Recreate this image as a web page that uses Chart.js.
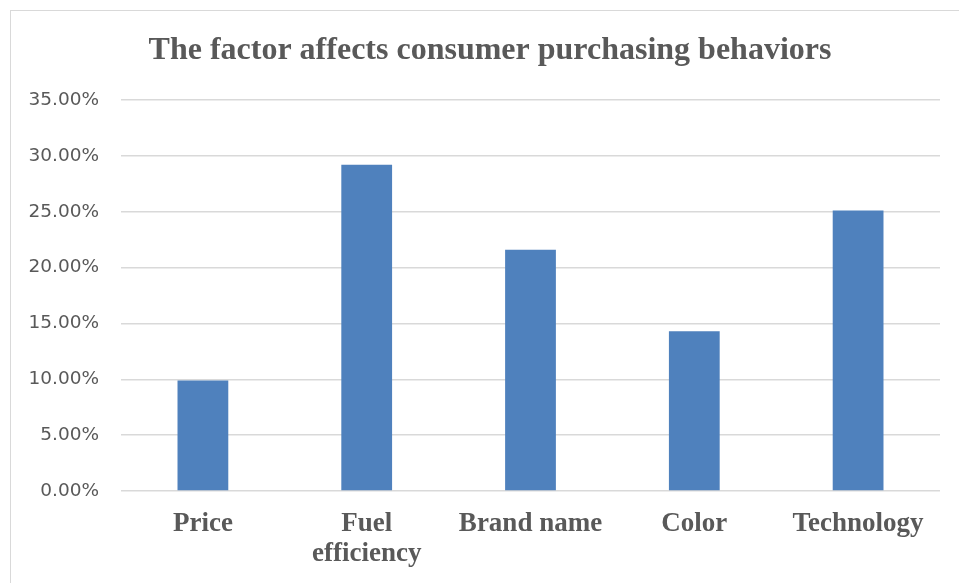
<!DOCTYPE html>
<html>
<head>
<meta charset="utf-8">
<script src="https://cdn.jsdelivr.net/npm/chart.js@4"></script>
<style>
  html, body { margin: 0; padding: 0; background: #fff; overflow: hidden; }
  #frame {
    position: absolute; left: 10px; top: 10px;
    width: 958px; height: 572px;
    border-left: 1px solid #d9d9d9; border-top: 1px solid #d9d9d9;
  }
</style>
</head>
<body>
<div id="frame"><canvas id="factor-chart"></canvas></div>
<script>
// categories and shares (%) for the purchasing factors
const factors = ["Price", ["Fuel", "efficiency"], "Brand name", "Color", "Technology"];
const shares = [9.9, 29.2, 21.6, 14.3, 25.1];
const yTicks = [0, 5, 10, 15, 20, 25, 30, 35];

const factorCanvas = document.getElementById('factor-chart');
const serif = "'Liberation Serif', 'Times New Roman', serif";
const sans = "'DejaVu Sans', 'Open Sans', sans-serif";

const factorData = {
  labels: factors,
  datasets: [{
    data: shares,
    backgroundColor: '#4f81bd',
    borderWidth: 0,
    barPercentage: 0.31,
    categoryPercentage: 1
  }]
};

const factorOptions = {
  responsive: true,
  maintainAspectRatio: false,
  animation: { duration: 0 },
  layout: { padding: 0 },
  scales: {
    x: {
      grid: { display: false, drawTicks: false },
      border: { display: false },
      ticks: {
        color: '#595959',
        padding: 18,
        maxRotation: 0,
        autoSkip: false,
        font: { family: serif, size: 27, weight: 'bold', lineHeight: 1.11 }
      },
      afterFit: (scale) => { scale.height = 92; }
    },
    y: {
      min: 0,
      max: 35,
      afterBuildTicks: (scale) => { scale.ticks = yTicks.map(v => ({ value: v })); },
      grid: { color: '#d9d9d9', lineWidth: 1.4, drawTicks: false },
      border: { display: false },
      ticks: {
        color: '#595959',
        padding: 22,
        font: { family: sans, size: 18.5 },
        callback: (v) => v.toFixed(2) + '%'
      },
      afterFit: (scale) => { scale.width = 110; }
    },
    // empty margin on the right of the plot
    gap: {
      type: 'linear',
      axis: 'y',
      position: 'right',
      grid: { display: false, drawTicks: false },
      border: { display: false },
      ticks: { display: false },
      afterFit: (scale) => { scale.width = 29; }
    }
  },
  plugins: {
    legend: { display: false },
    tooltip: { enabled: false },
    title: {
      display: true,
      text: 'The factor affects consumer purchasing behaviors',
      color: '#595959',
      font: { family: serif, size: 32, weight: 'bold', lineHeight: 1.2 },
      padding: { top: 21, bottom: 29.6 }
    }
  }
};

let factorChart = new Chart(factorCanvas, {
  type: 'bar',
  data: factorData,
  options: factorOptions
});
</script>
</body>
</html>
